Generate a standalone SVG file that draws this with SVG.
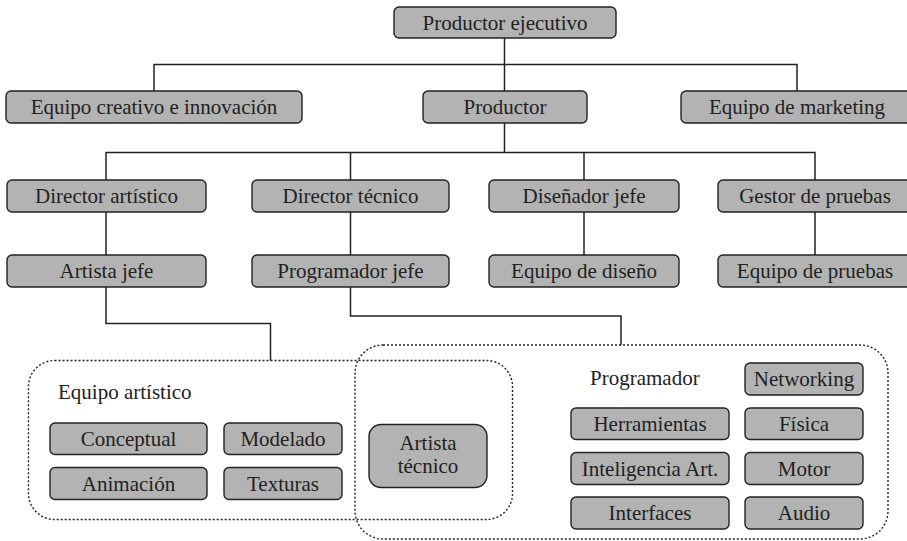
<svg xmlns="http://www.w3.org/2000/svg" width="907" height="541" viewBox="0 0 907 541">
<style>
.box{fill:#b3b3b3;stroke:#222;stroke-width:1.4}
.grp{fill:none;stroke:#222;stroke-width:1.4;stroke-dasharray:2 2}
.lbl{font-family:"Liberation Serif","DejaVu Serif",serif;font-size:21px;fill:#222;text-anchor:middle}
.title{font-family:"Liberation Serif","DejaVu Serif",serif;font-size:21px;fill:#222}
.con{fill:none;stroke:#222;stroke-width:1.5}
</style>
<rect width="907" height="541" fill="#fff"/>
<g id="connectors" class="con">
<path d="M504.5 38V91M154 91V64.5H797V91"/>
<path d="M504.5 123V152.5M106 180V152.5H815V180M350.5 152.5V180M584 152.5V180"/>
<path d="M106 212V255M350.5 212V255M584 212V255M815 212V255"/>
<path d="M106 287V323.5H270.5V360.5"/>
<path d="M350.5 287V316H621V345"/>
</g>
<g id="grupo-artistico"><rect class="grp" x="28.5" y="360.5" width="484" height="159" rx="26"/><text class="title" x="58" y="399">Equipo artístico</text></g>
<g id="grupo-programador"><rect class="grp" x="355" y="345" width="533" height="194" rx="28"/><text class="title" x="590" y="384.5">Programador</text></g>
<g id="productor-ejecutivo"><rect class="box" x="394" y="7" width="222" height="31" rx="5"/><text class="lbl" x="505" y="29.5">Productor ejecutivo</text></g>
<g id="equipo-creativo"><rect class="box" x="6" y="91" width="296" height="32" rx="5"/><text class="lbl" x="154" y="114">Equipo creativo e innovación</text></g>
<g id="productor"><rect class="box" x="423" y="91" width="164" height="32" rx="5"/><text class="lbl" x="505" y="114">Productor</text></g>
<g id="equipo-marketing"><rect class="box" x="681" y="91" width="232" height="32" rx="5"/><text class="lbl" x="797" y="114">Equipo de marketing</text></g>
<g id="director-artistico"><rect class="box" x="7" y="180" width="199" height="32" rx="5"/><text class="lbl" x="106.5" y="203">Director artístico</text></g>
<g id="director-tecnico"><rect class="box" x="252" y="180" width="197" height="32" rx="5"/><text class="lbl" x="350.5" y="203">Director técnico</text></g>
<g id="disenador-jefe"><rect class="box" x="489" y="180" width="190" height="32" rx="5"/><text class="lbl" x="584" y="203">Diseñador jefe</text></g>
<g id="gestor-pruebas"><rect class="box" x="718" y="180" width="194" height="32" rx="5"/><text class="lbl" x="815" y="203">Gestor de pruebas</text></g>
<g id="artista-jefe"><rect class="box" x="7" y="255" width="199" height="32" rx="5"/><text class="lbl" x="106.5" y="278">Artista jefe</text></g>
<g id="programador-jefe"><rect class="box" x="252" y="255" width="197" height="32" rx="5"/><text class="lbl" x="350.5" y="278">Programador jefe</text></g>
<g id="equipo-diseno"><rect class="box" x="489" y="255" width="190" height="32" rx="5"/><text class="lbl" x="584" y="278">Equipo de diseño</text></g>
<g id="equipo-pruebas"><rect class="box" x="718" y="255" width="194" height="32" rx="5"/><text class="lbl" x="815" y="278">Equipo de pruebas</text></g>
<g id="conceptual"><rect class="box" x="50" y="423" width="157" height="31.5" rx="5"/><text class="lbl" x="128.5" y="446">Conceptual</text></g>
<g id="modelado"><rect class="box" x="224" y="423" width="118" height="31.5" rx="5"/><text class="lbl" x="283" y="446">Modelado</text></g>
<g id="animacion"><rect class="box" x="50" y="467.5" width="157" height="32" rx="5"/><text class="lbl" x="128.5" y="490.5">Animación</text></g>
<g id="texturas"><rect class="box" x="224" y="467.5" width="118" height="32" rx="5"/><text class="lbl" x="283" y="490.5">Texturas</text></g>
<g id="artista-tecnico"><rect class="box" x="369" y="424.5" width="118" height="63" rx="12"/><text class="lbl" x="428" y="450">Artista</text><text class="lbl" x="428" y="473">técnico</text></g>
<g id="networking"><rect class="box" x="745" y="363" width="118" height="32" rx="5"/><text class="lbl" x="804" y="386">Networking</text></g>
<g id="herramientas"><rect class="box" x="571" y="408" width="158" height="31.5" rx="5"/><text class="lbl" x="650" y="431">Herramientas</text></g>
<g id="fisica"><rect class="box" x="745" y="408" width="118" height="31.5" rx="5"/><text class="lbl" x="804" y="431">Física</text></g>
<g id="inteligencia"><rect class="box" x="571" y="452.5" width="158" height="32" rx="5"/><text class="lbl" x="650" y="475.5">Inteligencia Art.</text></g>
<g id="motor"><rect class="box" x="745" y="452.5" width="118" height="32" rx="5"/><text class="lbl" x="804" y="475.5">Motor</text></g>
<g id="interfaces"><rect class="box" x="571" y="497" width="158" height="32" rx="5"/><text class="lbl" x="650" y="520">Interfaces</text></g>
<g id="audio"><rect class="box" x="745" y="497" width="118" height="32" rx="5"/><text class="lbl" x="804" y="520">Audio</text></g>
</svg>
